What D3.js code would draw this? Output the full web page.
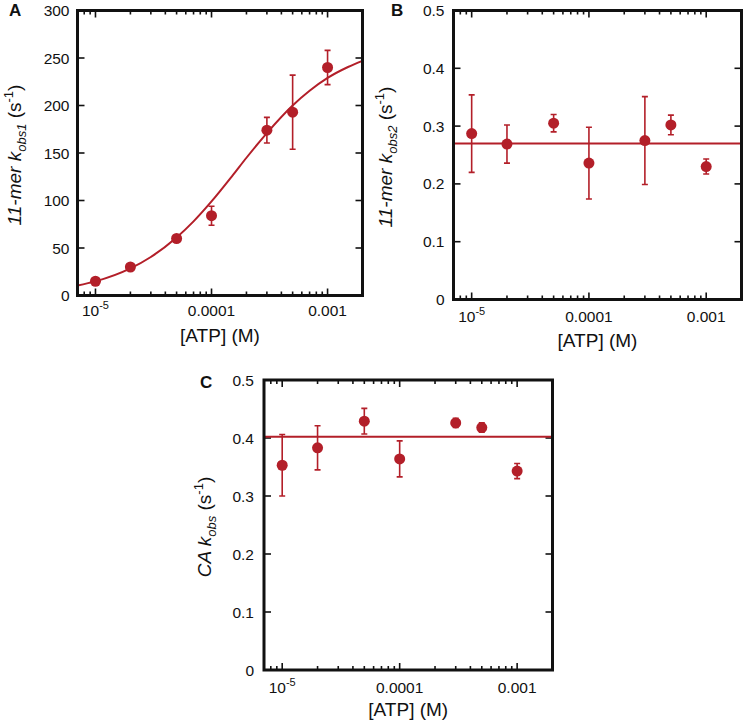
<!DOCTYPE html>
<html>
<head>
<meta charset="utf-8">
<script src="https://cdn.jsdelivr.net/npm/d3@7"></script>
<style>
  html, body { margin: 0; padding: 0; background: #fff; }
  svg { display: block; font-family: "Liberation Sans", Arial, sans-serif; }
</style>
</head>
<body>
<svg id="chart" width="744" height="723"></svg>
<script>
// ---------------- data ----------------
const atp = [1e-5, 2e-5, 5e-5, 1e-4, 3e-4, 5e-4, 1e-3];

const kobs1    = [15, 30, 60, 84, 174, 193, 240];
const kobs1Err = [2, 2, 3, 10, 13.5, 39, 18];
// fitted hyperbola, values
const fitATP = [7e-6, 1e-5, 2e-5, 3e-5, 5e-5, 7e-5, 1e-4, 1.5e-4, 2e-4, 3e-4, 5e-4, 7e-4, 1e-3, 1.5e-3, 2e-3];
const fitK1  = [10.6, 14.9, 28.5, 40.5, 61, 78, 99, 125.5, 145, 171, 200, 215.5, 229, 240.5, 247];

const kobs2    = [0.287, 0.269, 0.305, 0.236, 0.275, 0.302, 0.230];
const kobs2Err = [0.067, 0.033, 0.015, 0.062, 0.076, 0.017, 0.013];
const kobs2Mean = 0.27;

const caKobs    = [0.353, 0.383, 0.429, 0.364, 0.426, 0.418, 0.343];
const caKobsErr = [0.053, 0.038, 0.022, 0.031, 0.008, 0.008, 0.013];
const caKobsMean = 0.402;

const xDomain = [7e-6, 2e-3];
const xMajorTicks = [1e-5, 1e-4, 1e-3];
const xTickLabels = ["10^-5", "0.0001", "0.001"];
const yTicksA = [0, 50, 100, 150, 200, 250, 300];
const yTickLabelsA = ["0", "50", "100", "150", "200", "250", "300"];
const yTicksBC = [0, 0.1, 0.2, 0.3, 0.4, 0.5];
const yTickLabelsBC = ["0", "0.1", "0.2", "0.3", "0.4", "0.5"];

// ---------------- styling ----------------
const RED = "#b31f29";
const svg = d3.select("#chart");

function minorTicks(domain) {
  const out = [];
  for (let e = Math.floor(Math.log10(domain[0])); e <= Math.ceil(Math.log10(domain[1])); e++) {
    for (let m = 1; m <= 9; m++) {
      const v = m * Math.pow(10, e);
      if (v >= domain[0] * 0.999 && v <= domain[1] * 1.001) out.push(v);
    }
  }
  return out;
}

function drawPanel(cfg) {
  const g = svg.append("g");
  const x = d3.scaleLog().domain(xDomain).range([cfg.left, cfg.right]);
  const y = d3.scaleLinear().domain(cfg.yDomain).range([cfg.bottom, cfg.top]);

  const clipId = "clip" + cfg.letter;
  g.append("clipPath").attr("id", clipId)
    .append("rect").attr("x", cfg.left).attr("y", cfg.top)
    .attr("width", cfg.right - cfg.left).attr("height", cfg.bottom - cfg.top);

  // ticks (inward, on all four sides)
  const tickG = g.append("g").attr("stroke", "#111").attr("stroke-width", 1.6);
  minorTicks(xDomain).forEach(v => {
    const major = xMajorTicks.some(t => Math.abs(Math.log10(t) - Math.log10(v)) < 1e-6);
    const len = major ? 7 : 4;
    const px = x(v);
    tickG.append("line").attr("x1", px).attr("x2", px).attr("y1", cfg.bottom).attr("y2", cfg.bottom - len);
    tickG.append("line").attr("x1", px).attr("x2", px).attr("y1", cfg.top).attr("y2", cfg.top + len);
  });
  cfg.yTicks.forEach(v => {
    const py = y(v);
    tickG.append("line").attr("x1", cfg.left).attr("x2", cfg.left + 7).attr("y1", py).attr("y2", py);
    tickG.append("line").attr("x1", cfg.right).attr("x2", cfg.right - 7).attr("y1", py).attr("y2", py);
  });

  // y tick labels
  cfg.yTicks.forEach((v, i) => {
    g.append("text").attr("x", cfg.left - cfg.yLabGap).attr("y", y(v)).attr("dy", "0.36em")
      .attr("text-anchor", "end").attr("font-size", 15.5).attr("fill", "#111")
      .text(cfg.yTickLabels[i]);
  });

  // x tick labels
  xMajorTicks.forEach((v, i) => {
    const lab = xTickLabels[i];
    const t = g.append("text").attr("x", x(v)).attr("y", cfg.xLabBase)
      .attr("text-anchor", "middle").attr("font-size", 15.5).attr("fill", "#111");
    if (lab.includes("^")) {
      const [base, exp] = lab.split("^");
      t.append("tspan").text(base);
      t.append("tspan").attr("font-size", 11).attr("dy", -7).text(exp);
    } else {
      t.text(lab);
    }
  });

  // x title
  g.append("text").attr("x", (cfg.left + cfg.right) / 2).attr("y", cfg.xTitleBase)
    .attr("text-anchor", "middle").attr("font-size", 19).attr("fill", "#111")
    .text("[ATP] (M)");

  // y title (rotated, rich text)
  const yt = g.append("text")
    .attr("transform", `translate(${cfg.yTitleX},${(cfg.top + cfg.bottom) / 2 + 2}) rotate(-90)`)
    .attr("text-anchor", "middle").attr("font-size", 19).attr("fill", "#111");
  let shift = 0;
  cfg.yTitle.forEach(seg => {
    const ts = yt.append("tspan").text(seg.t);
    if (seg.i) ts.attr("font-style", "italic");
    let target = 0;
    if (seg.sub) { ts.attr("font-size", 13); target = 5; }
    if (seg.sup) { ts.attr("font-size", 13); target = -8; }
    ts.attr("dy", target - shift);
    shift = target;
  });

  // panel letter
  g.append("text").attr("x", cfg.letterX).attr("y", cfg.letterY)
    .attr("font-size", 17).attr("font-weight", "bold").attr("fill", "#111")
    .text(cfg.letter);

  // data layer
  const dataG = g.append("g").attr("clip-path", `url(#${clipId})`);

  if (cfg.fitX) {
    const line = d3.line().x(d => x(d[0])).y(d => y(d[1])).curve(d3.curveMonotoneX);
    dataG.append("path").datum(cfg.fitX.map((v, i) => [v, cfg.fitY[i]]))
      .attr("d", line).attr("fill", "none").attr("stroke", RED).attr("stroke-width", 2);
  }
  if (cfg.mean !== undefined) {
    dataG.append("line").attr("x1", cfg.left).attr("x2", cfg.right)
      .attr("y1", y(cfg.mean)).attr("y2", y(cfg.mean))
      .attr("stroke", RED).attr("stroke-width", 2);
  }

  // error bars
  const pts = atp.map((v, i) => ({ x: v, y: cfg.yVals[i], e: cfg.yErr[i] }));
  const eb = dataG.append("g").attr("stroke", RED).attr("stroke-width", 1.6);
  pts.forEach(p => {
    const px = x(p.x), y1 = y(p.y + p.e), y2 = y(p.y - p.e);
    eb.append("line").attr("x1", px).attr("x2", px).attr("y1", y1).attr("y2", y2);
    eb.append("line").attr("x1", px - 3).attr("x2", px + 3).attr("y1", y1).attr("y2", y1);
    eb.append("line").attr("x1", px - 3).attr("x2", px + 3).attr("y1", y2).attr("y2", y2);
  });
  dataG.selectAll("circle.pt").data(pts).enter().append("circle")
    .attr("cx", p => x(p.x)).attr("cy", p => y(p.y)).attr("r", 5.5).attr("fill", RED);

  // frame
  g.append("rect").attr("x", cfg.left).attr("y", cfg.top)
    .attr("width", cfg.right - cfg.left).attr("height", cfg.bottom - cfg.top)
    .attr("fill", "none").attr("stroke", "#111").attr("stroke-width", 3);
}

drawPanel({
  letter: "A", letterX: 9, letterY: 16,
  left: 77.5, right: 362.5, top: 10.5, bottom: 295.5,
  yDomain: [0, 300], yTicks: yTicksA, yTickLabels: yTickLabelsA, yLabGap: 8,
  xLabBase: 316, xTitleBase: 342, yTitleX: 21,
  yTitle: [{ t: "11-mer k", i: true }, { t: "obs1", i: true, sub: true }, { t: " (s" }, { t: "-1", sup: true }, { t: ")" }],
  yVals: kobs1, yErr: kobs1Err, fitX: fitATP, fitY: fitK1
});

drawPanel({
  letter: "B", letterX: 391, letterY: 16,
  left: 453.5, right: 741.5, top: 10.5, bottom: 299.5,
  yDomain: [0, 0.5], yTicks: yTicksBC, yTickLabels: yTickLabelsBC, yLabGap: 9,
  xLabBase: 322, xTitleBase: 347, yTitleX: 392,
  yTitle: [{ t: "11-mer k", i: true }, { t: "obs2", i: true, sub: true }, { t: " (s" }, { t: "-1", sup: true }, { t: ")" }],
  yVals: kobs2, yErr: kobs2Err, mean: kobs2Mean
});

drawPanel({
  letter: "C", letterX: 200, letterY: 388,
  left: 264, right: 552.5, top: 380, bottom: 670,
  yDomain: [0, 0.5], yTicks: yTicksBC, yTickLabels: yTickLabelsBC, yLabGap: 10,
  xLabBase: 693, xTitleBase: 715.5, yTitleX: 210.5,
  yTitle: [{ t: "CA k", i: true }, { t: "obs", i: true, sub: true }, { t: " (s" }, { t: "-1", sup: true }, { t: ")" }],
  yVals: caKobs, yErr: caKobsErr, mean: caKobsMean
});
</script>
</body>
</html>
